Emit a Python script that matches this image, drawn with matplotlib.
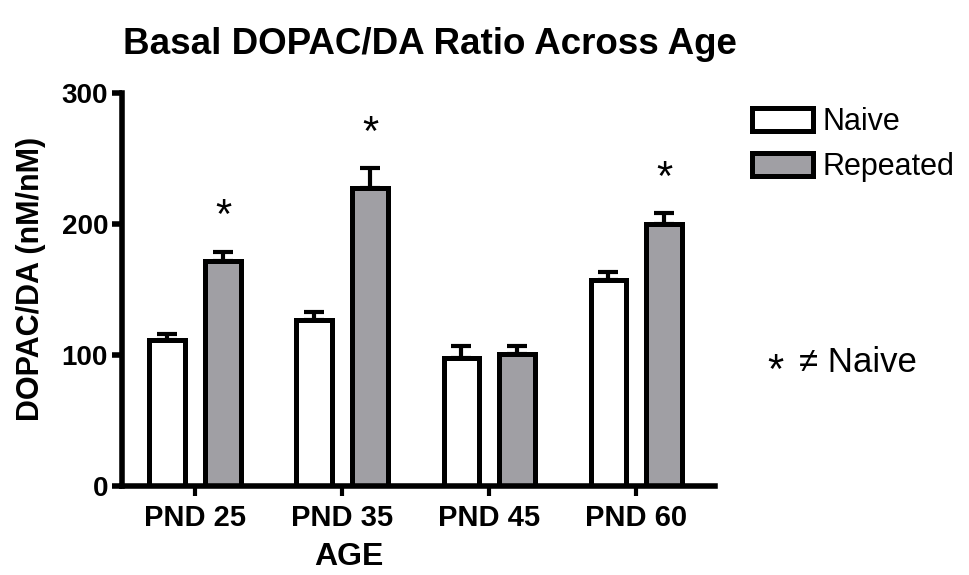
import numpy as np
import matplotlib.pyplot as plt
from matplotlib.patches import Patch

plt.rcParams['font.family'] = ['Liberation Sans', 'DejaVu Sans']

# data
ages = ['PND 25', 'PND 35', 'PND 45', 'PND 60']
naive = [111, 126.5, 97.5, 157]
naive_sem = [5, 6.5, 9.5, 6.5]
repeated = [171.5, 227, 100.5, 200]
repeated_sem = [7, 15.5, 6, 8]
# asterisk (significance) heights for the repeated bars, None = no mark
star_y = [215, 278, None, 244]

gray = '#a09fa4'
x = np.arange(len(ages))
w = 0.24
off = 0.19

fig = plt.figure(figsize=(9.69, 5.75), dpi=100)
ax = fig.add_axes([0.1259, 0.1548, 0.612, 0.684])

err_kw = dict(fmt='none', ecolor='black', elinewidth=3, capsize=7, capthick=3, zorder=1)
ax.errorbar(x - off, naive, yerr=[np.zeros(4), naive_sem], **err_kw)
ax.errorbar(x + off, repeated, yerr=[np.zeros(4), repeated_sem], **err_kw)
ax.bar(x - off, naive, w, color='white', edgecolor='black', linewidth=3.6, zorder=2)
ax.bar(x + off, repeated, w, color=gray, edgecolor='black', linewidth=3.6, zorder=2)

for xi, s in zip(x, star_y):
    if s is not None:
        ax.annotate('*', (xi + off, s), xytext=(0, -17), textcoords='offset points',
                    ha='center', va='baseline', fontsize=30)

ax.set_xlim(-0.497, 3.537)
ax.set_ylim(0, 300)
ax.set_yticks([0, 100, 200, 300])
ax.set_xticks(x)
ax.set_xticklabels(ages)
for s in ['top', 'right']:
    ax.spines[s].set_visible(False)
for s in ['left', 'bottom']:
    ax.spines[s].set_linewidth(4)
ax.tick_params(axis='y', length=7, width=4, pad=3, labelsize=20)
ax.tick_params(axis='x', length=7, width=3, pad=6, labelsize=21)
for lab in ax.get_xticklabels() + ax.get_yticklabels():
    lab.set_fontweight('bold')

ax.set_ylabel('DOPAC/DA (nM/nM)', fontsize=22, fontweight='bold', va='center')
ax.yaxis.set_label_coords(-0.1535, 0.526)
fig.text(0.3597, 0.032, 'AGE', ha='center', va='center', fontsize=23, fontweight='bold')
fig.text(0.444, 0.922, 'Basal DOPAC/DA Ratio Across Age', ha='center', va='center',
         fontsize=26.5, fontweight='bold')

handles = [Patch(facecolor='white', edgecolor='black', linewidth=3.6, label='Naive'),
           Patch(facecolor=gray, edgecolor='black', linewidth=3.6, label='Repeated')]
fig.legend(handles=handles, loc='upper left', bbox_to_anchor=(752 / 969, 1 - 107 / 575),
           frameon=False, fontsize=22, borderpad=0, borderaxespad=0,
           handlelength=2.0, handleheight=0.8, handletextpad=0.3, labelspacing=0.5)

fig.text(0.7998, 0.334, '*', ha='center', va='baseline', fontsize=30)
fig.text(0.8246, 0.353, '\u2260 Naive', ha='left', va='baseline', fontsize=25)

fig.savefig('out.png', dpi=100)
